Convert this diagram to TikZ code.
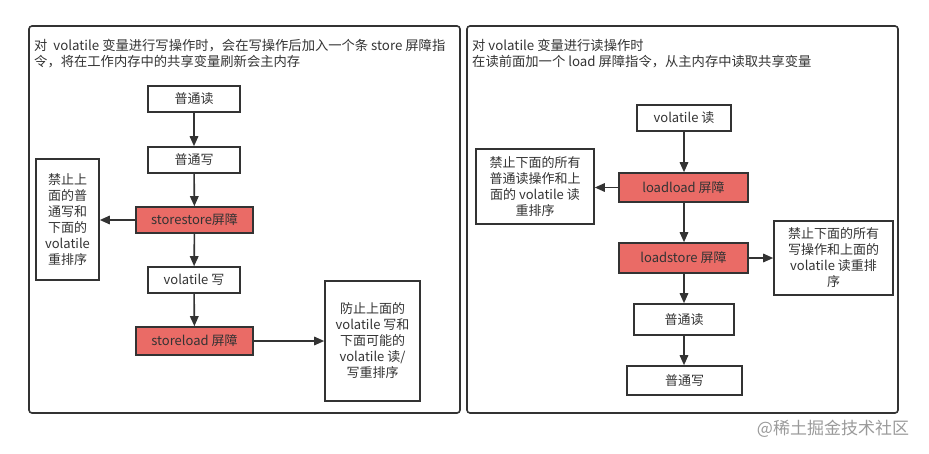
\documentclass[tikz,border=0pt]{standalone}
\usepackage{fontspec}
\setmainfont{Noto Sans CJK SC}
\usetikzlibrary{arrows.meta}
\definecolor{ink}{HTML}{333333}
\definecolor{barrier}{HTML}{EA6B66}
\definecolor{wm}{HTML}{9A9A9A}
\tikzset{
  frame/.style={draw=ink, line width=1.6pt, rounded corners=3pt},
  box/.style={draw=ink, line width=1.6pt, fill=white, text=ink, inner sep=0pt, font=\fontsize{13}{15}\selectfont},
  redbox/.style={box, fill=barrier},
  note/.style={draw=ink, line width=1.6pt, fill=white, text=ink, inner sep=0pt, align=center, font=\fontsize{13}{16}\selectfont},
  title/.style={text=ink, anchor=north west, inner sep=0pt, align=left, font=\fontsize{13.3}{16}\selectfont},
  arr/.style={draw=ink, line width=1.6pt, -{Triangle[length=10pt,width=8.5pt]}},
}
\begin{document}
\begin{tikzpicture}[x=1pt,y=-1pt]
\useasboundingbox (0,0) rectangle (929,453);
% frames
\draw[frame] (29,26) rectangle (460,413);
\draw[frame] (467,26) rectangle (898,413);
% titles
\node[title] (t1) at (34,39) {对\ \ volatile 变量进行写操作时，会在写操作后加入一个条 store 屏障指\\令，将在工作内存中的共享变量刷新会主内存};
\node[title] (t2) at (472,39) {对 volatile 变量进行读操作时\\在读前面加一个 load 屏障指令，从主内存中读取共享变量};
% left flow
\node[box, minimum width=92pt, minimum height=26pt] (a1) at (194,99) {普通读};
\node[box, minimum width=92pt, minimum height=26pt] (a2) at (194,160) {普通写};
\node[redbox, minimum width=117pt, minimum height=26pt] (a3) at (194.5,220) {storestore屏障};
\node[box, minimum width=92pt, minimum height=26pt] (a4) at (194,280) {volatile 写};
\node[redbox, minimum width=117pt, minimum height=28pt] (a5) at (194.5,341) {storeload 屏障};
\node[note, minimum width=63pt, minimum height=121pt] (n1) at (67.5,219.5) {禁止上\\面的普\\通写和\\下面的\\volatile\\重排序};
\node[note, minimum width=95pt, minimum height=120pt] (n2) at (372.5,341) {防止上面的\\volatile 写和\\下面可能的\\volatile 读/\\写重排序};
\draw[arr] (a1) -- (a2);
\draw[arr] (a2) -- (a3);
\draw[arr] (a3) -- (a4);
\draw[arr] (a4) -- (a5);
\draw[arr] (a3) -- (a3 -| n1.east);
\draw[arr] (a5) -- (a5 -| n2.west);
% right flow
\node[box, minimum width=94pt, minimum height=26pt] (b1) at (684,118) {volatile 读};
\node[redbox, minimum width=129pt, minimum height=29pt] (b2) at (683.5,187.5) {loadload 屏障};
\node[redbox, minimum width=129pt, minimum height=30pt] (b3) at (683.5,258) {loadstore 屏障};
\node[box, minimum width=100pt, minimum height=31pt] (b4) at (684,319.5) {普通读};
\node[box, minimum width=115pt, minimum height=29pt] (b5) at (684.5,380.5) {普通写};
\node[note, minimum width=118pt, minimum height=75pt] (n3) at (535,186.5) {禁止下面的所有\\普通读操作和上\\面的 volatile 读\\重排序};
\node[note, minimum width=119pt, minimum height=74pt] (n4) at (833.5,258) {禁止下面的所有\\写操作和上面的\\volatile 读重排\\序};
\draw[arr] (b1) -- (b1 |- b2.north);
\draw[arr] (b2.south -| b1) -- (b1 |- b3.north);
\draw[arr] (b3.south -| b1) -- (b1 |- b4.north);
\draw[arr] (b4.south -| b1) -- (b1 |- b5.north);
\draw[arr] (b2) -- (b2 -| n3.east);
\draw[arr] (b3) -- (b3 -| n4.west);
% watermark
\node[text=wm, font=\fontsize{17}{20}\selectfont, inner sep=0pt] (wmk) at (833,429) {@稀土掘金技术社区};
\end{tikzpicture}
\end{document}
